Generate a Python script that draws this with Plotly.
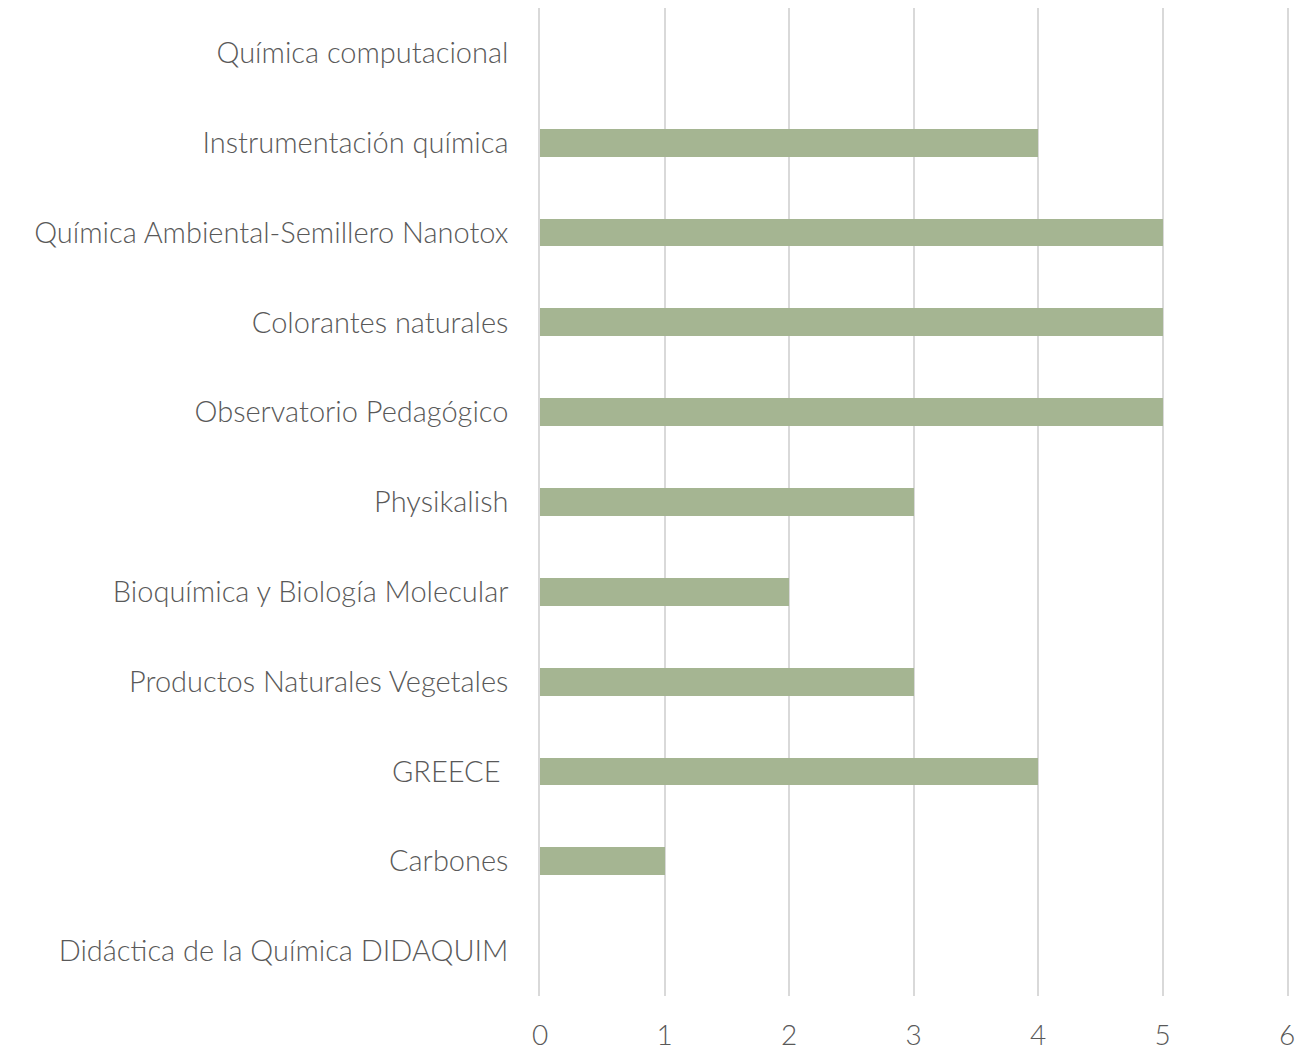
import plotly.graph_objects as go

categories = [
    "Didáctica de la Química DIDAQUIM",
    "Carbones",
    "GREECE ",
    "Productos Naturales Vegetales",
    "Bioquímica y Biología Molecular",
    "Physikalish",
    "Observatorio Pedagógico",
    "Colorantes naturales",
    "Química Ambiental-Semillero Nanotox",
    "Instrumentación química",
    "Química computacional",
]
values = [0, 1, 4, 3, 2, 3, 5, 5, 5, 4, 0]
x_ticks = [0, 1, 2, 3, 4, 5, 6]

fig = go.Figure(go.Bar(
    y=categories, x=values, orientation="h",
    marker=dict(color="#A5B592", line=dict(width=0)),
    width=0.31,
))

font_family = "Lato"
fig.update_layout(
    width=1300, height=1044,
    margin=dict(l=532, r=21, t=0, b=56),
    paper_bgcolor="white", plot_bgcolor="white",
    showlegend=False,
    font=dict(family=font_family, size=29, color="#595959", weight=300),
    bargap=0,
)
fig.update_xaxes(
    range=[0, 6], tickvals=x_ticks, ticks="",
    showgrid=True, gridcolor="#D9D9D9", gridwidth=1.5,
    zeroline=False, showline=False, automargin=False,
    tickfont=dict(size=28, color="#595959", weight=300),
    ticklabelstandoff=20,
)
fig.update_yaxes(
    categoryorder="array", categoryarray=categories,
    range=[-0.5, len(categories) - 0.5],
    ticks="", showgrid=False, zeroline=False,
    showline=True, mirror=True, linecolor="#D9D9D9", linewidth=1.5,
    automargin=False,
    tickfont=dict(size=29, color="#595959", weight=300),
    ticklabelstandoff=24,
)
fig.write_html("out.html")
